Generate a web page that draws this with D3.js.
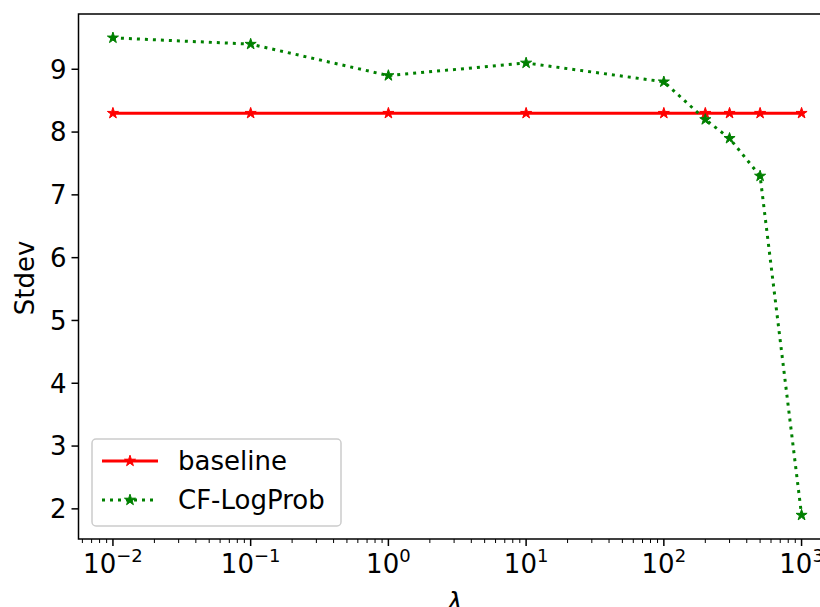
<!DOCTYPE html>
<html>
<head>
<meta charset="utf-8">
<script src="https://cdn.jsdelivr.net/npm/d3@7"></script>
<style>
  body { margin: 0; background: #fff; }
  text { font-family: "DejaVu Sans", sans-serif; }
</style>
</head>
<body>
<div id="chart"></div>
<script>
var width = 820;
var height = 607;

// data
var lambdas = [0.01, 0.1, 1, 10, 100, 200, 300, 500, 1000];
var baseline = [8.3, 8.3, 8.3, 8.3, 8.3, 8.3, 8.3, 8.3, 8.3];
var cfLogProb = [9.5, 9.4, 8.9, 9.1, 8.8, 8.2, 7.9, 7.3, 1.9];
var xTickExps = [-2, -1, 0, 1, 2, 3];
var yTicks = [2, 3, 4, 5, 6, 7, 8, 9];
var seriesNames = ["baseline", "CF-LogProb"];

var plotLeft = 78.5, plotRight = 836, plotTop = 14, plotBottom = 539;
var fontSize = 26;

var svg = d3.select("#chart")
  .append("svg")
  .attr("width", width)
  .attr("height", height);

var x = d3.scaleLog()
  .domain([Math.pow(10, -2.25), Math.pow(10, 3.25)])
  .range([plotLeft, plotRight]);

var y = d3.scaleLinear()
  .domain([1.52, 9.88])
  .range([plotBottom, plotTop]);

// minor ticks on log axis
var minor = [];
for (var e = -3; e <= 3; e++) {
  for (var m = 2; m <= 9; m++) {
    var v = m * Math.pow(10, e);
    if (v >= x.domain()[0] && v <= x.domain()[1]) minor.push(v);
  }
}
svg.selectAll(".minor")
  .data(minor)
  .enter()
  .append("line")
  .attr("x1", function(d){ return x(d); })
  .attr("x2", function(d){ return x(d); })
  .attr("y1", plotBottom)
  .attr("y2", plotBottom + 4)
  .attr("stroke", "#000")
  .attr("stroke-width", 1);

// x axis major ticks
var xt = svg.selectAll(".xt")
  .data(xTickExps)
  .enter()
  .append("g")
  .attr("transform", function(d){ return "translate(" + x(Math.pow(10, d)) + "," + plotBottom + ")"; });
xt.append("line")
  .attr("y2", 7)
  .attr("stroke", "#000")
  .attr("stroke-width", 1.5);
var xl = xt.append("text")
  .attr("y", 34)
  .attr("text-anchor", "middle")
  .attr("font-size", fontSize + "px")
  .attr("fill", "#000");
xl.append("tspan").text("10");
xl.append("tspan")
  .attr("dy", -11)
  .attr("font-size", "18px")
  .text(function(d){ return d < 0 ? "\u2212" + (-d) : d; });

// y axis ticks
var yt = svg.selectAll(".yt")
  .data(yTicks)
  .enter()
  .append("g")
  .attr("transform", function(d){ return "translate(" + plotLeft + "," + y(d) + ")"; });
yt.append("line")
  .attr("x2", -7)
  .attr("stroke", "#000")
  .attr("stroke-width", 1.5);
yt.append("text")
  .attr("x", -12)
  .attr("dy", "0.36em")
  .attr("text-anchor", "end")
  .attr("font-size", fontSize + "px")
  .attr("fill", "#000")
  .text(function(d){ return d; });

// series lines
var line = d3.line()
  .x(function(d){ return x(d[0]); })
  .y(function(d){ return y(d[1]); });

var baseData = d3.zip(lambdas, baseline);
var cfData = d3.zip(lambdas, cfLogProb);
var colors = ["red", "green"];
var dashes = [null, "3,5"];

svg.append("path")
  .datum(baseData)
  .attr("d", line)
  .attr("fill", "none")
  .attr("stroke", colors[0])
  .attr("stroke-width", 3);

svg.append("path")
  .datum(cfData)
  .attr("d", line)
  .attr("fill", "none")
  .attr("stroke", colors[1])
  .attr("stroke-width", 3)
  .attr("stroke-dasharray", dashes[1]);

var star = d3.symbol().type(d3.symbolStar).size(38);

svg.selectAll(".sb")
  .data(baseData)
  .enter()
  .append("path")
  .attr("d", star)
  .attr("transform", function(d){ return "translate(" + x(d[0]) + "," + y(d[1]) + ")"; })
  .attr("fill", colors[0])
  .attr("stroke", colors[0])
  .attr("stroke-width", 1);

svg.selectAll(".sc")
  .data(cfData)
  .enter()
  .append("path")
  .attr("d", star)
  .attr("transform", function(d){ return "translate(" + x(d[0]) + "," + y(d[1]) + ")"; })
  .attr("fill", colors[1])
  .attr("stroke", colors[1])
  .attr("stroke-width", 1);

// spines
svg.append("rect")
  .attr("x", plotLeft)
  .attr("y", plotTop)
  .attr("width", plotRight - plotLeft)
  .attr("height", plotBottom - plotTop)
  .attr("fill", "none")
  .attr("stroke", "#000")
  .attr("stroke-width", 1.5);

// axis labels
svg.append("text")
  .attr("transform", "translate(34,278) rotate(-90)")
  .attr("text-anchor", "middle")
  .attr("font-size", fontSize + "px")
  .attr("fill", "#000")
  .text("Stdev");

svg.append("text")
  .attr("x", 455)
  .attr("y", 611)
  .attr("text-anchor", "middle")
  .attr("font-size", fontSize + "px")
  .attr("font-style", "italic")
  .attr("fill", "#000")
  .text("\u03bb");

// legend
var lg = svg.append("g");
lg.append("rect")
  .attr("x", 92)
  .attr("y", 439)
  .attr("width", 249)
  .attr("height", 87)
  .attr("rx", 4)
  .attr("fill", "#fff")
  .attr("fill-opacity", 0.8)
  .attr("stroke", "#ccc")
  .attr("stroke-width", 1.5);

seriesNames.forEach(function(name, i){
  var ly = 461 + i * 39;
  lg.append("line")
    .attr("x1", 102)
    .attr("x2", 158)
    .attr("y1", ly)
    .attr("y2", ly)
    .attr("stroke", colors[i])
    .attr("stroke-width", 3)
    .attr("stroke-dasharray", dashes[i]);
  lg.append("path")
    .attr("d", star)
    .attr("transform", "translate(130," + ly + ")")
    .attr("fill", colors[i])
    .attr("stroke", colors[i]);
  lg.append("text")
    .attr("x", 178)
    .attr("y", ly)
    .attr("dy", "0.36em")
    .attr("font-size", fontSize + "px")
    .attr("fill", "#000")
    .text(name);
});
</script>
</body>
</html>
